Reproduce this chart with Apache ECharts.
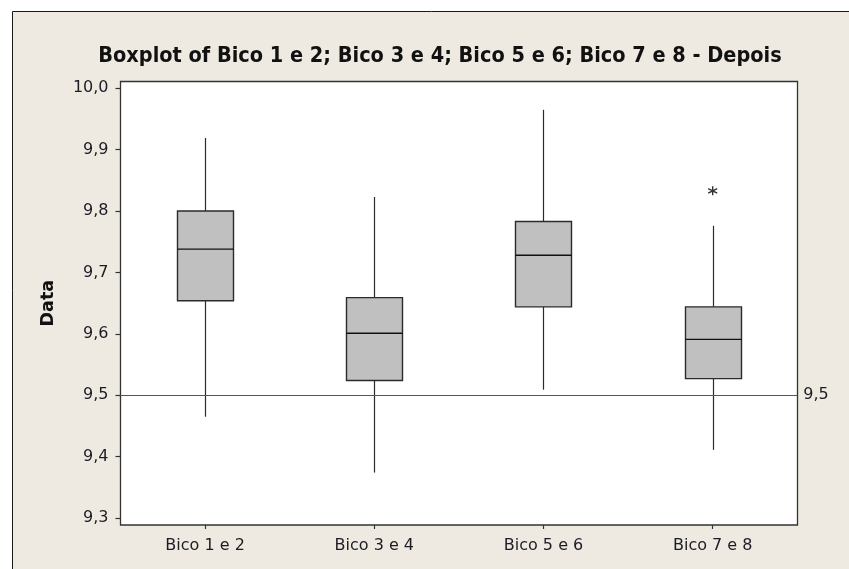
<!DOCTYPE html>
<html>
<head>
<meta charset="utf-8">
<script src="https://cdn.jsdelivr.net/npm/echarts@6/dist/echarts.min.js"></script>
<style>
  html, body { margin: 0; padding: 0; background: #ffffff; }
  #chart { width: 849px; height: 569px; }
</style>
</head>
<body>
<div id="chart"></div>
<script>
// Nozzle groups measured after adjustment
const categories = ['Bico 1 e 2', 'Bico 3 e 4', 'Bico 5 e 6', 'Bico 7 e 8'];

// Five-number summaries per group
const whiskerLow  = [9.465, 9.374, 9.509, 9.411];
const q1          = [9.654, 9.524, 9.644, 9.527];
const median      = [9.738, 9.601, 9.728, 9.591];
const q3          = [9.800, 9.659, 9.783, 9.644];
const whiskerHigh = [9.919, 9.823, 9.965, 9.776];

// Points beyond the whiskers: [group index, value]
const outliers = [[3, 9.833]];

// Target reference value
const refValue = 9.5;
const refLabel = '9,5';

// Y axis range and tick step
const yMin = 9.3;
const yMax = 10.0;
const yStep = 0.1;

const titleText = 'Boxplot of Bico 1 e 2; Bico 3 e 4; Bico 5 e 6; Bico 7 e 8 - Depois';
const yName = 'Data';

const boxData = categories.map((c, i) => [i, whiskerLow[i], q1[i], median[i], q3[i], whiskerHigh[i]]);

const INK = '#2b2b2b';
const TXT = '#1c1c24';

function renderBox(params, api) {
  const i = api.value(0);
  const lo = api.coord([i, api.value(1)]);
  const b1 = api.coord([i, api.value(2)]);
  const md = api.coord([i, api.value(3)]);
  const b3 = api.coord([i, api.value(4)]);
  const hi = api.coord([i, api.value(5)]);
  const w = api.size([1, 0])[0] * 0.331;
  const x = Math.round(lo[0]) + 0.5;
  const left = x - w / 2;
  const lineStyle = { stroke: INK, lineWidth: 1.2, fill: null };
  return {
    type: 'group',
    children: [
      { type: 'line', shape: { x1: x, y1: hi[1], x2: x, y2: b3[1] }, style: lineStyle },
      { type: 'line', shape: { x1: x, y1: b1[1], x2: x, y2: lo[1] }, style: lineStyle },
      { type: 'rect', shape: { x: left, y: b3[1], width: w, height: b1[1] - b3[1] },
        style: { fill: '#c0c0c0', stroke: INK, lineWidth: 1.4 } },
      { type: 'line', shape: { x1: left, y1: md[1], x2: left + w, y2: md[1] },
        style: { stroke: '#111', lineWidth: 1.4 } }
    ]
  };
}

const chart = echarts.init(document.getElementById('chart'), null, { renderer: 'canvas' });

chart.setOption({
  animation: false,
  backgroundColor: '#ffffff',
  title: {
    text: titleText,
    left: 435,
    top: 40,
    textAlign: 'center',
    textStyle: { fontFamily: 'DejaVu Sans Condensed', fontWeight: 'bold', fontSize: 21.5, color: '#111' }
  },
  graphic: [
    // outer panel
    { type: 'rect', z: -10, silent: true,
      shape: { x: 12.5, y: 11.5, width: 900, height: 600 },
      style: { fill: '#eeeae1', stroke: '#1a1a1a', lineWidth: 1 } },
    // plot area
    { type: 'rect', z: -5, silent: true,
      shape: { x: 120.5, y: 81.5, width: 677, height: 443.5 },
      style: { fill: '#ffffff', stroke: '#333333', lineWidth: 1.3 } }
  ],
  grid: { left: 120.5, right: 51.7, top: 88.3, bottom: 51 },
  xAxis: {
    type: 'category',
    data: categories,
    offset: 7,
    axisLine: { show: false },
    axisTick: { show: true, alignWithLabel: true, length: 4, lineStyle: { color: '#333', width: 1.2 } },
    axisLabel: { fontFamily: 'DejaVu Sans', fontSize: 16, color: TXT, margin: 13 },
    splitLine: { show: false }
  },
  yAxis: {
    type: 'value',
    min: yMin,
    max: yMax,
    interval: yStep,
    name: yName,
    nameLocation: 'middle',
    nameGap: 63,
    nameTextStyle: { fontFamily: 'DejaVu Sans', fontWeight: 'bold', fontSize: 17.5, color: '#111' },
    axisLine: { show: false },
    axisTick: { show: true, length: 5, lineStyle: { color: '#333', width: 1.2 } },
    axisLabel: {
      fontFamily: 'DejaVu Sans', fontSize: 16, color: TXT, margin: 12,
      formatter: v => v.toFixed(1).replace('.', ',')
    },
    splitLine: { show: false }
  },
  series: [
    {
      type: 'custom',
      renderItem: renderBox,
      data: boxData,
      encode: { x: 0, y: [1, 2, 3, 4, 5] },
      z: 3
    },
    {
      type: 'scatter',
      data: outliers,
      symbol: 'path://M5,0L5,10M0.6,2.5L9.4,7.5M0.6,7.5L9.4,2.5',
      symbolSize: 9,
      itemStyle: { color: 'transparent', borderColor: '#000', borderWidth: 1.4 },
      z: 4,
      markLine: {
        silent: true,
        symbol: 'none',
        lineStyle: { color: '#555', width: 1.2, type: 'solid' },
        label: {
          show: true, position: 'end', distance: 6, formatter: refLabel,
          fontFamily: 'DejaVu Sans', fontSize: 16, color: TXT
        },
        data: [{ yAxis: refValue }]
      }
    }
  ]
});
</script>
</body>
</html>
